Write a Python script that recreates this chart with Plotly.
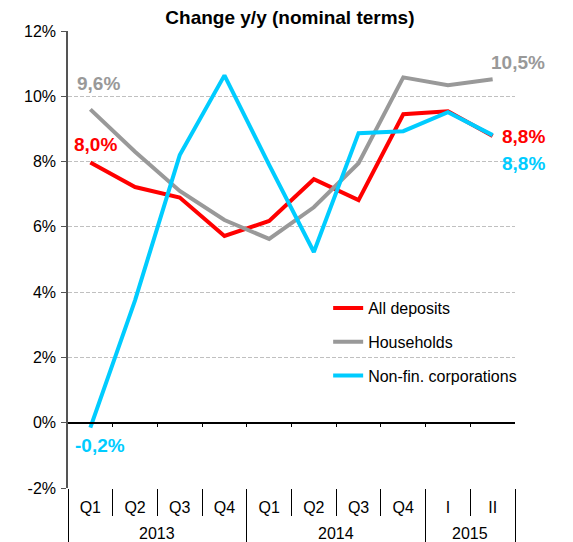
import plotly.graph_objects as go

# ---- data ----
years = ["2013", "2013", "2013", "2013", "2014", "2014", "2014", "2014", "2015", "2015"]
quarters = ["Q1", "Q2", "Q3", "Q4", "Q1", "Q2", "Q3", "Q4", "I", "II"]
all_deposits = [7.97, 7.22, 6.90, 5.72, 6.18, 7.46, 6.82, 9.45, 9.54, 8.78]
households = [9.60, 8.30, 7.10, 6.21, 5.63, 6.60, 7.95, 10.58, 10.34, 10.52]
non_fin_corp = [-0.15, 3.75, 8.20, 10.64, 7.90, 5.23, 8.87, 8.93, 9.51, 8.81]

series_names = ["All deposits", "Households", "Non-fin. corporations"]
series_colors = ["#FF0000", "#999999", "#00CCFF"]
first_labels = ["8,0%", "9,6%", "-0,2%"]
last_labels = ["8,8%", "10,5%", "8,8%"]

y_tickvals = [-2, 0, 2, 4, 6, 8, 10, 12]
y_ticktext = ["-2%", "0%", "2%", "4%", "6%", "8%", "10%", "12%"]

title_text = "Change y/y (nominal terms)"

FONT = "Liberation Sans"

n = len(quarters)
xs = list(range(n))
# group (year) structure derived from the category lists
year_groups = []
for i, yv in enumerate(years):
    if not year_groups or year_groups[-1][0] != yv:
        year_groups.append([yv, i, i])
    else:
        year_groups[-1][2] = i
quarter_bounds = [k - 0.5 for k in range(n + 1)]
year_bounds = [g[1] - 0.5 for g in year_groups] + [year_groups[-1][2] + 0.5]

fig = go.Figure()
series_values = [all_deposits, households, non_fin_corp]
for i, (name, vals, col) in enumerate(zip(series_names, series_values, series_colors)):
    fig.add_trace(go.Scatter(
        x=xs, y=vals, mode="lines", name=name,
        line=dict(color=col, width=4), legendgroup=f"g{i}",
    ))

# helper axes (zero line ticks, quarter separators, year dividers)
for ax in ["x2", "x3", "x4"]:
    fig.add_trace(go.Scatter(x=[], y=[], xaxis=ax, showlegend=False, hoverinfo="skip"))

# data labels: first and last value of each series
first_shift = [(5, 18), (8, 26), (10, -18)]
last_shift = [(31, 0), (25, 17), (31, -28)]
annotations = []
for i, vals in enumerate(series_values):
    annotations.append(dict(
        x=xs[0], y=vals[0], xref="x", yref="y", text="<b>" + first_labels[i] + "</b>",
        showarrow=False, xshift=first_shift[i][0], yshift=first_shift[i][1],
        font=dict(family=FONT, size=19, color=series_colors[i]),
    ))
    annotations.append(dict(
        x=xs[-1], y=vals[-1], xref="x", yref="y", text="<b>" + last_labels[i] + "</b>",
        showarrow=False, xshift=last_shift[i][0], yshift=last_shift[i][1],
        font=dict(family=FONT, size=19, color=series_colors[i]),
    ))
# year labels centred under their groups
for g in year_groups:
    annotations.append(dict(
        x=(g[1] + g[2]) / 2, y=0, xref="x", yref="paper", text=g[0], showarrow=False,
        yshift=-45, yanchor="middle", font=dict(family=FONT, size=16, color="#000"),
    ))

xr = [-0.5, n - 0.5]
fig.update_layout(
    width=573, height=542,
    margin=dict(l=68, r=58, t=31, b=54),
    paper_bgcolor="white", plot_bgcolor="white",
    font=dict(family=FONT, size=16, color="#000000"),
    title=dict(text="<b>" + title_text + "</b>", x=0.506, xanchor="center",
               y=0.968, yanchor="middle", font=dict(family=FONT, size=19, color="#000")),
    showlegend=True,
    legend=dict(x=0.582, y=0.431, xanchor="left", yanchor="top",
                bgcolor="rgba(0,0,0,0)", font=dict(family=FONT, size=16),
                tracegroupgap=10),
    annotations=annotations,
    xaxis=dict(
        type="linear", range=xr, tickvals=xs, ticktext=quarters, showgrid=False,
        zeroline=False, showline=False, ticks="", ticklabelstandoff=8,
        tickfont=dict(family=FONT, size=16, color="#000"), automargin=False,
    ),
    xaxis2=dict(
        type="linear", overlaying="x", anchor="free", position=2 / 14, range=xr,
        tickvals=quarter_bounds[1:-1], ticks="outside", ticklen=4, tickwidth=1.3,
        tickcolor="#000", showticklabels=False, showline=True, linecolor="#000",
        linewidth=1.5, showgrid=False, zeroline=False, automargin=False,
    ),
    xaxis3=dict(
        type="linear", overlaying="x", anchor="y", side="bottom", range=xr,
        tickvals=quarter_bounds, ticks="outside", ticklen=27, tickwidth=1.3,
        tickcolor="#000", showticklabels=False, showline=False, showgrid=False,
        zeroline=False, automargin=False,
    ),
    xaxis4=dict(
        type="linear", overlaying="x", anchor="y", side="bottom", range=xr,
        tickvals=year_bounds, ticks="outside", ticklen=60, tickwidth=1.3,
        tickcolor="#000", showticklabels=False, showline=False, showgrid=False,
        zeroline=False, automargin=False,
    ),
    yaxis=dict(
        range=[-2, 12], tickvals=y_tickvals, ticktext=y_ticktext,
        showgrid=True, gridcolor="#C0C0C0", griddash="4px,2px", gridwidth=1,
        zeroline=False, showline=True, linecolor="#555555", linewidth=1.5,
        ticks="outside", ticklen=5, tickcolor="#555555", tickwidth=1.3,
        ticklabelstandoff=2,
        tickfont=dict(family=FONT, size=16, color="#000"), automargin=False,
    ),
)

fig.write_html("out.html", config={"displayModeBar": False},
               post_script="document.body.style.margin='0';")
